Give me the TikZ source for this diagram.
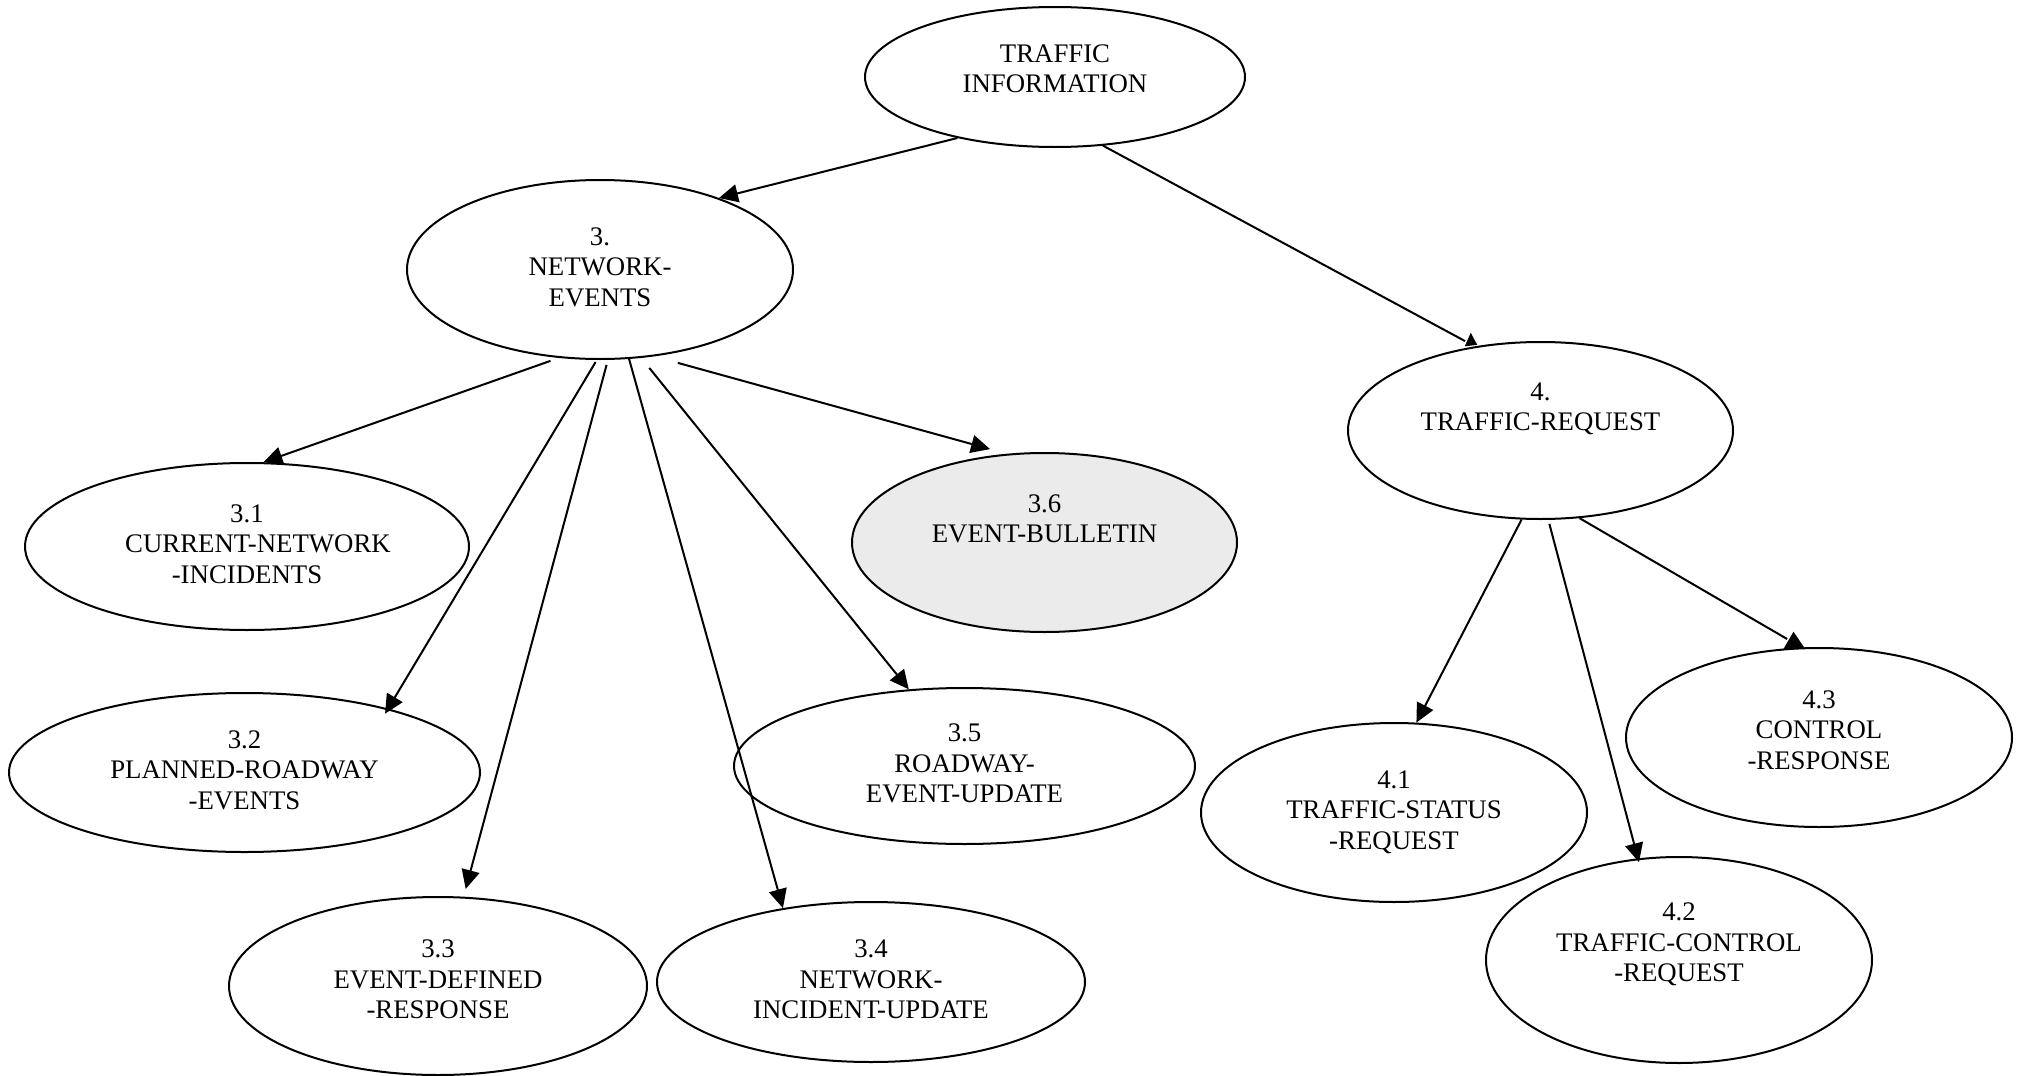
\documentclass[tikz,border=0pt]{standalone}
\usepackage{fontspec}
\setmainfont{Liberation Serif}
\usetikzlibrary{arrows.meta,shapes.geometric}
\definecolor{bulletfill}{HTML}{EBEBEB}
\begin{document}
\begin{tikzpicture}[x=0.5pt,y=-0.5pt,
  ent/.style={draw, line width=1pt, ellipse, inner sep=0pt, align=center,
    font=\fontsize{13.4pt}{15.3pt}\selectfont},
  link/.style={line width=1pt, -{Triangle[length=9.5pt,width=9pt]}},
  plainlink/.style={line width=1pt},
  flathead/.style={fill=black},
]
\useasboundingbox (0,0) rectangle (2020,1076);

% entities
\node[ent, minimum width=190pt, minimum height=70pt] (ti) at (1055,77)
  {\strut TRAFFIC\\INFORMATION\rule[-10.4pt]{0pt}{0pt}};
\node[ent, minimum width=193pt, minimum height=89.5pt] (n3) at (600,269.5)
  {\strut 3.\\NETWORK-\\EVENTS\strut};
\node[ent, minimum width=192.5pt, minimum height=88.5pt] (n4) at (1540.5,430.5)
  {\strut 4.\\TRAFFIC-REQUEST\rule[-25.9pt]{0pt}{0pt}};
\node[ent, minimum width=222pt, minimum height=83.5pt] (n31) at (247,546.5)
  {\strut 3.1\\\hspace*{11pt}CURRENT-NETWORK\\-INCIDENTS\strut};
\node[ent, minimum width=235.5pt, minimum height=79.5pt] (n32) at (244.5,772.5)
  {\strut 3.2\\PLANNED-ROADWAY\\-EVENTS\strut};
\node[ent, minimum width=209pt, minimum height=89pt] (n33) at (438,986)
  {\strut 3.3\\EVENT-DEFINED\\-RESPONSE\rule[-8.6pt]{0pt}{0pt}};
\node[ent, minimum width=214pt, minimum height=80pt] (n34) at (871,982)
  {\strut 3.4\\NETWORK-\\INCIDENT-UPDATE\strut};
\node[ent, minimum width=230.5pt, minimum height=78pt] (n35) at (964.5,766)
  {\strut 3.5\\ROADWAY-\\EVENT-UPDATE\strut};
\node[ent, fill=bulletfill, minimum width=192.5pt, minimum height=89.5pt] (n36) at (1044.5,542.5)
  {\strut 3.6\\EVENT-BULLETIN\rule[-25.9pt]{0pt}{0pt}};
\node[ent, minimum width=193pt, minimum height=89.5pt] (n41) at (1394,812.5)
  {\strut 4.1\\TRAFFIC-STATUS\\-REQUEST\strut};
\node[ent, minimum width=193pt, minimum height=103pt] (n42) at (1679,960)
  {\strut 4.2\\TRAFFIC-CONTROL\\-REQUEST\rule[-19.6pt]{0pt}{0pt}};
\node[ent, minimum width=193pt, minimum height=89.5pt] (n43) at (1819,737.5)
  {\strut 4.3\\CONTROL\\-RESPONSE\rule[-9.6pt]{0pt}{0pt}};

% connectors from the root
\draw[link] (ti.212) -- (n3.31);
\draw[plainlink, shorten >=5.5pt] (ti.-55) -- (n4.128);
\fill[flathead] ([shift={(-10,0)}]n4.128) -- ([shift={(2.5,-1.5)}]n4.128)
  -- ([shift={(-4,-13.5)}]n4.128) -- cycle;

% connectors below NETWORK-EVENTS
\draw[link, shorten <=4.4pt] (n3.-115) -- (n31.79);
\draw[link, shorten <=1.2pt, shorten >=-3pt] (n3.-92) -- (n32.24);
\draw[link, shorten <=2.6pt, shorten >=4pt] (n3.-85) -- (n33.74);
\draw[link] (n3.-72) -- (n34.140);
\draw[link, shorten <=6.4pt] (n3.-65) -- (n35.126);
\draw[link, shorten <=12.2pt, shorten >=8.7pt] (n3.-58) -- (n36.113);

% connectors below TRAFFIC-REQUEST
\draw[link] (n4.-102) -- (n41.76);
\draw[link, shorten <=2pt, shorten >=-2pt] (n4.-85) -- (n42.112);
\draw[plainlink, shorten >=8.3pt] (n4.-66) -- (n43.101);
\fill[flathead] ([shift={(-18,1.6)}]n43.101) -- ([shift={(3.7,1.6)}]n43.101)
  -- ([shift={(-8,-15.7)}]n43.101) -- cycle;
\end{tikzpicture}
\end{document}
